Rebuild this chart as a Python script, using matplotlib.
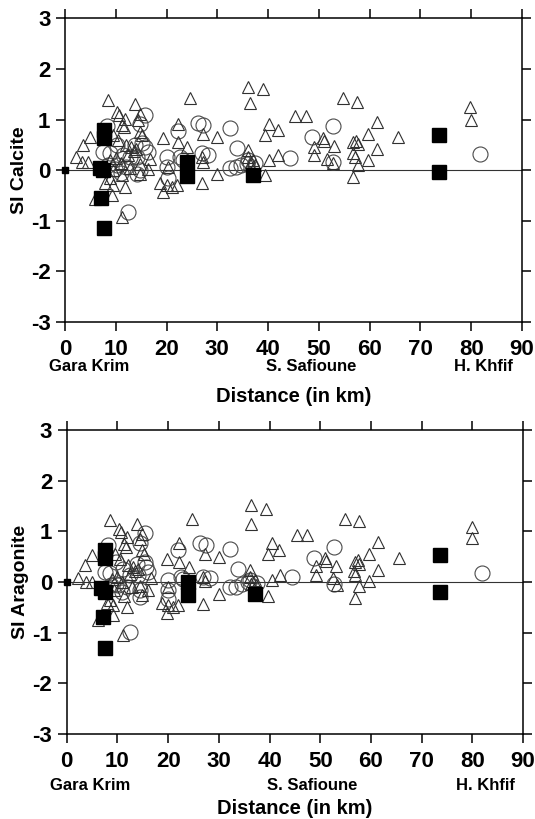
import matplotlib
matplotlib.use('Agg')
import matplotlib.pyplot as plt

plt.rcParams['font.family'] = ['Liberation Sans', 'DejaVu Sans']
plt.rcParams['font.weight'] = 'bold'
plt.rcParams['axes.unicode_minus'] = False

# Calcite saturation index - open triangles
calcite_tri_x = [2.1, 3.6, 4.9, 3.4, 4.6, 6.0,
                 8.5, 10.2, 10.6, 13.8, 14.8, 11.9, 11.3, 11.7, 14.4, 14.8, 15.2, 9.5, 10.5,
                 12.0, 13.0, 13.5, 14.0, 12.4, 8.9, 10.0, 11.0, 9.4, 12.8, 14.8, 16.4, 14.8,
                 16.7, 11.2, 8.9, 9.5, 11.8, 9.2, 11.2, 7.9,
                 24.6, 22.2, 27.2, 29.9, 19.4, 22.2, 24.0, 26.9, 27.2, 29.9, 26.9, 18.8, 20.0,
                 21.0, 22.0, 19.4, 20.2, 36.1, 39.1, 36.4, 36.1, 36.1, 37.1, 36.4, 37.4, 39.4,
                 40.2, 39.4, 41.9, 41.9, 40.2,
                 45.3, 47.4, 54.7, 57.5, 61.4, 59.7, 65.6, 50.8, 51.0, 49.1, 49.1, 53.0, 56.8,
                 57.4, 57.7, 56.8, 57.1, 57.7, 61.4, 59.7, 56.8, 51.7, 52.8, 79.7, 79.9]
calcite_tri_y = [0.26, 0.49, 0.66, 0.16, 0.16, -0.57,
                 1.38, 1.15, 1.10, 1.30, 1.12, 1.02, 0.90, 0.85, 1.00, 0.76, 0.70, 0.70, 0.60,
                 0.50, 0.45, 0.38, 0.42, 0.30, 0.20, 0.25, 0.15, 0.00, 0.05, 0.13, 0.03, -0.07,
                 0.23, -0.10, -0.16, -0.30, -0.33, -0.49, -0.92, -0.25,
                 1.43, 0.92, 0.72, 0.66, 0.64, 0.56, 0.46, 0.26, 0.17, -0.07, -0.26, -0.26, -0.30,
                 -0.33, -0.30, -0.44, 0.07, 1.65, 1.60, 1.32, 0.40, 0.26, 0.20, 0.13, 0.10, -0.10,
                 0.92, 0.70, 0.79, 0.30, 0.20,
                 1.07, 1.08, 1.43, 1.35, 0.95, 0.72, 0.65, 0.63, 0.58, 0.46, 0.30, 0.48, 0.56,
                 0.58, 0.52, 0.33, 0.26, 0.10, 0.41, 0.20, -0.13, 0.23, 0.14, 1.24, 1.00]

# Calcite - open circles
calcite_circ_x = [15.7, 14.8, 8.2, 7.5, 8.9, 10.2, 11.5, 12.8, 13.8, 15.1, 15.7, 14.1, 10.2,
                  12.1, 14.8, 14.1, 9.8, 16.4, 12.5, 8.5, 11.0,
                  20.0, 20.0, 20.2, 22.6, 23.3, 22.2, 26.2, 27.2, 32.5, 33.8, 26.9, 28.2, 32.5,
                  33.6, 34.7, 35.8, 36.1, 37.4, 44.3, 48.7, 52.7, 52.7, 81.7]
calcite_circ_y = [1.10, 0.92, 0.87, 0.36, 0.33, 0.49, 0.30, 0.26, 0.49, 0.53, 0.45, 0.26, 0.10,
                  0.07, 0.00, -0.07, 0.03, 0.36, -0.82, 0.10, -0.05,
                  0.26, 0.07, -0.15, 0.26, 0.20, 0.77, 0.93, 0.90, 0.83, 0.43, 0.33, 0.30, 0.05,
                  0.07, 0.10, 0.13, 0.20, 0.14, 0.25, 0.65, 0.87, 0.16, 0.32]

# Calcite - filled squares
calcite_sq_x = [7.6, 7.6, 6.8, 7.5, 7.0, 7.6, 24.0, 24.0, 37.1, 73.7, 73.7]
calcite_sq_y = [0.79, 0.63, 0.05, 0.00, -0.54, -1.15, 0.16, -0.12, -0.10, 0.69, -0.03]

# Aragonite saturation index - open triangles
arag_tri_x = [2.3, 3.6, 4.9, 3.8, 4.9, 6.2,
              8.5, 10.4, 10.7, 13.9, 14.8, 11.8, 11.3, 11.7, 14.4, 14.8, 15.2, 9.5, 10.5,
              12.0, 13.0, 13.5, 14.0, 12.4, 8.9, 10.0, 11.0, 9.4, 12.8, 14.4, 16.1, 14.8,
              16.7, 11.2, 8.5, 9.2, 11.8, 9.1, 11.1, 7.9,
              24.7, 22.1, 27.2, 30.0, 19.7, 22.1, 24.1, 26.9, 27.2, 30.0, 26.9, 18.8, 20.0,
              21.0, 22.0, 19.7, 20.0, 36.3, 39.4, 36.3, 36.1, 36.2, 37.1, 36.4, 37.4, 39.6,
              40.4, 39.6, 41.8, 42.0, 40.4,
              45.5, 47.4, 54.8, 57.6, 61.3, 59.7, 65.6, 51.0, 51.2, 49.2, 49.2, 53.1, 56.8,
              57.4, 57.7, 56.6, 56.8, 57.7, 61.3, 59.7, 56.8, 52.5, 53.4, 79.9, 79.9]
arag_tri_y = [0.07, 0.33, 0.53, 0.00, 0.00, -0.76,
              1.22, 1.04, 0.98, 1.15, 0.95, 0.89, 0.74, 0.70, 0.85, 0.63, 0.55, 0.55, 0.45,
              0.33, 0.30, 0.22, 0.25, 0.15, 0.05, 0.10, 0.00, -0.15, -0.10, -0.07, -0.16, -0.26,
              0.07, -0.27, -0.36, -0.46, -0.49, -0.66, -1.05, -0.42,
              1.25, 0.76, 0.56, 0.49, 0.46, 0.40, 0.30, 0.10, 0.02, -0.23, -0.43, -0.42, -0.46,
              -0.49, -0.46, -0.62, -0.10, 1.52, 1.45, 1.15, 0.23, 0.10, 0.04, -0.03, -0.06, -0.28,
              0.77, 0.55, 0.63, 0.13, 0.03,
              0.92, 0.92, 1.25, 1.21, 0.79, 0.56, 0.48, 0.48, 0.42, 0.31, 0.13, 0.31, 0.40,
              0.43, 0.36, 0.22, 0.13, -0.07, 0.23, 0.01, -0.31, 0.07, -0.05, 1.09, 0.86]

# Aragonite - open circles
arag_circ_x = [15.4, 14.4, 8.2, 7.5, 8.5, 9.8, 11.1, 12.5, 13.8, 15.4, 15.7, 14.1, 9.8,
               11.8, 14.4, 14.4, 10.2, 16.1, 12.5, 8.7, 11.0,
               20.0, 20.0, 20.0, 22.6, 23.0, 22.0, 26.2, 27.4, 32.3, 33.7, 26.9, 28.2, 32.3,
               33.4, 34.6, 35.8, 36.1, 37.5, 44.4, 48.7, 52.8, 52.8, 81.9]
arag_circ_y = [0.96, 0.76, 0.73, 0.20, 0.17, 0.40, 0.26, 0.13, 0.36, 0.40, 0.30, 0.13, -0.03,
               -0.10, -0.16, -0.30, -0.05, 0.20, -0.99, -0.05, -0.20,
               0.03, -0.15, -0.33, 0.10, 0.05, 0.63, 0.76, 0.73, 0.66, 0.26, 0.10, 0.08, -0.09,
               -0.09, -0.04, 0.00, 0.04, -0.02, 0.09, 0.48, 0.69, -0.03, 0.17]

# Aragonite - filled squares
arag_sq_x = [7.5, 7.5, 6.8, 7.6, 7.1, 7.5, 24.0, 24.0, 37.1, 73.7, 73.7]
arag_sq_y = [0.63, 0.47, -0.12, -0.20, -0.69, -1.30, 0.00, -0.26, -0.24, 0.54, -0.20]

x_ticks = [0, 10, 20, 30, 40, 50, 60, 70, 80, 90]
y_ticks = [-3, -2, -1, 0, 1, 2, 3]
places = ['Gara Krim', 'S. Safioune', 'H. Khfif']
place_x = [4.7, 48.4, 82.5]


def draw_panel(ax, tri_x, tri_y, circ_x, circ_y, sq_x, sq_y, ylabel, place_y, xlabel_y):
    # Reference line at SI = 0
    ax.axhline(0, color='#333333', lw=0.8, zorder=1)

    ax.plot(circ_x, circ_y, 'o', ms=10.8, mfc='none', mec='#4a4a4a', mew=0.8, zorder=2)
    ax.plot(tri_x, tri_y, '^', ms=8.6, mfc='none', mec='#303030', mew=0.8, zorder=3)
    ax.plot(sq_x, sq_y, 's', ms=10.3, color='black', zorder=4)
    # origin point
    ax.plot([0], [0], 's', ms=5, color='black', zorder=5, clip_on=False)

    ax.set_xlim(0, 90)
    ax.set_ylim(-3, 3)
    ax.set_xticks(x_ticks)
    ax.set_yticks(y_ticks)
    ax.tick_params(direction='out', top=True, right=True, length=6.5, width=1.1,
                   labelsize=16)
    ax.tick_params(axis='x', pad=6)
    ax.tick_params(axis='y', pad=4)
    for lab in ax.get_xticklabels() + ax.get_yticklabels():
        lab.set_fontweight('bold')
    for sp in ax.spines.values():
        sp.set_linewidth(1.1)

    ax.set_ylabel(ylabel, fontsize=14, fontweight='bold')
    ax.yaxis.set_label_coords(-0.082, 0.5)

    for name, px in zip(places, place_x):
        ax.text(px, place_y, name, transform=ax.get_xaxis_transform(),
                ha='center', va='center', fontsize=12, fontweight='bold')

    ax.set_xlabel('Distance (in km)', fontsize=14.5, fontweight='bold')
    ax.xaxis.set_label_coords(0.5, xlabel_y)


fig = plt.figure(figsize=(5.35, 8.19), dpi=100)
ax1 = fig.add_axes([0.1215, 0.6068, 0.854, 0.3708])
ax2 = fig.add_axes([0.1247, 0.1038, 0.853, 0.3712])

draw_panel(ax1, calcite_tri_x, calcite_tri_y, calcite_circ_x, calcite_circ_y,
           calcite_sq_x, calcite_sq_y, 'SI Calcite', -0.147, -0.215)
draw_panel(ax2, arag_tri_x, arag_tri_y, arag_circ_x, arag_circ_y,
           arag_sq_x, arag_sq_y, 'SI Aragonite', -0.171, -0.214)

fig.savefig('out.png', dpi=100)
